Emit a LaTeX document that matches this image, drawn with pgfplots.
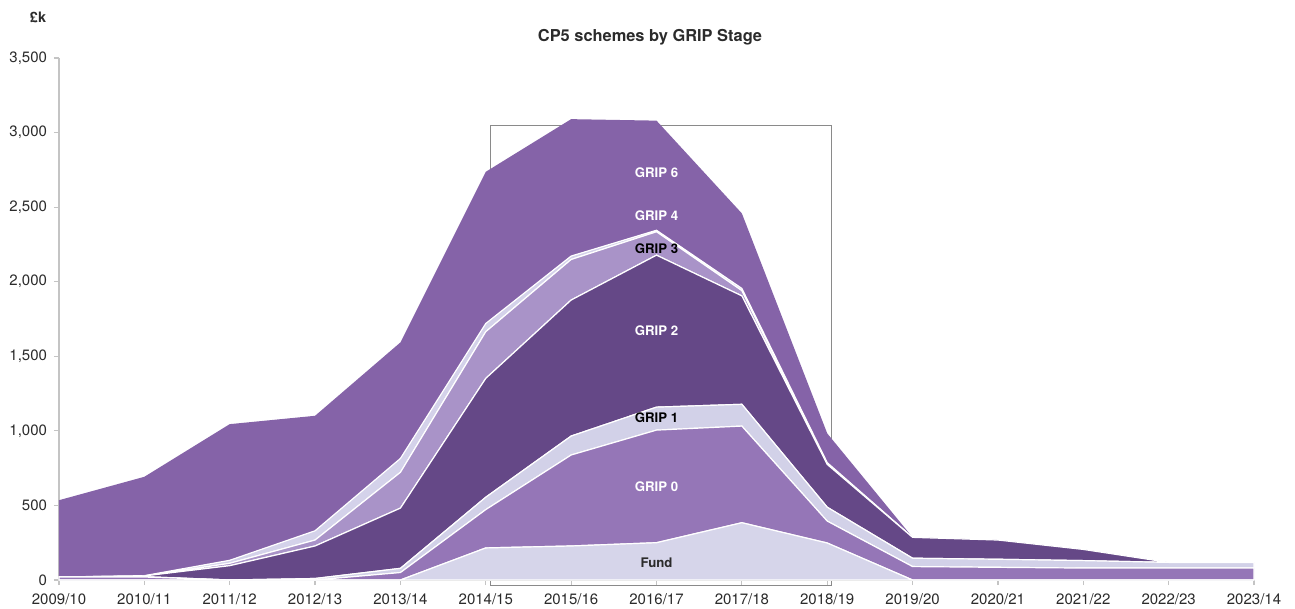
\documentclass[border=0pt]{standalone}
\usepackage{pgfplots}
\pgfplotsset{compat=1.18}
\usepackage{pgfplotstable}
\usepackage{fontspec}
\setmainfont{TeX Gyre Heros}

\definecolor{fundc}{HTML}{D6D5EA}
\definecolor{gzero}{HTML}{9576B7}
\definecolor{gone}{HTML}{D2D1E8}
\definecolor{gtwo}{HTML}{654887}
\definecolor{gthree}{HTML}{A993C8}
\definecolor{gfour}{HTML}{D4D2EA}
\definecolor{gsix}{HTML}{8563A8}
\definecolor{axisgrey}{HTML}{C4C4C4}
\definecolor{boxgrey}{HTML}{8A8A8A}
\definecolor{labelc}{HTML}{2B2B2B}

% Spend per GRIP stage, £k, one row per year (0 = 2009/10)
\pgfplotstableread{
x  fund  g0   g1   g2    g3   g4   g6
0  0     20   0    0     0    0    515
1  0     20   2    5     0    2    663
2  0     0    0    96    16   20   913
3  0     0    10   218   40   62   771
4  0     50   28   404   240  93   778
5  215   257  83   797   313  55   1017
6  228   610  127  912   272  23   918
7  250   755  154  1019  157  10   735
8  384   648  146  727   35   15   503
9  248   147  93   287   5    7    196
10 0     90   56   140   0    0    0
11 0     85   54   129   0    0    0
12 0     80   50   75    0    0    0
13 0     80   38   0     0    0    0
14 0     80   38   0     0    0    0
}\gripdata

\begin{document}
\begin{tikzpicture}
\begin{axis}[
  scale only axis,
  width=597.5bp, height=261bp,
  xmin=0, xmax=14, ymin=0, ymax=3500,
  stack plots=y,
  clip=false,
  axis x line=bottom, axis y line=left,
  axis line style={axisgrey, line width=0.6bp, -},
  tick style={axisgrey, line width=0.6bp},
  tick align=outside,
  major tick length=2.5bp,
  xtick={0,...,14},
  xticklabels={2009/10,2010/11,2011/12,2012/13,2013/14,2014/15,2015/16,2016/17,2017/18,2018/19,2019/20,2020/21,2021/22,2022/23,2023/14},
  ytick={0,500,...,3500},
  /pgf/number format/assume math mode=true,
  /pgf/number format/1000 sep={,},
  tick label style={font=\fontsize{7.5bp}{9bp}\selectfont, text=labelc},
  yticklabel style={xshift=0bp},
  xticklabel style={yshift=-1bp},
]
\addplot[fill=fundc,  draw=white, line width=0.6bp] table[x=x, y=fund] {\gripdata} \closedcycle;
\addplot[fill=gzero,  draw=white, line width=0.6bp] table[x=x, y=g0]   {\gripdata} \closedcycle;
\addplot[fill=gone,   draw=white, line width=0.6bp] table[x=x, y=g1]   {\gripdata} \closedcycle;
\addplot[fill=gtwo,   draw=white, line width=0.6bp] table[x=x, y=g2]   {\gripdata} \closedcycle;
\addplot[fill=gthree, draw=white, line width=0.6bp] table[x=x, y=g3]   {\gripdata} \closedcycle;
\addplot[fill=gfour,  draw=white, line width=0.6bp] table[x=x, y=g4]   {\gripdata} \closedcycle;
\addplot[fill=gsix,   draw=none] table[x=x, y=g6] {\gripdata} \closedcycle;

% axis lines redrawn over the filled layers
\draw[axisgrey, line width=0.6bp] (axis cs:0,0) -- (axis cs:0,3500);
\draw[axisgrey, line width=0.6bp] (axis cs:0,0) -- (axis cs:14,0);

% CP5 window
\draw[boxgrey, line width=0.55bp] (axis cs:5.055,3045) rectangle (axis cs:9.055,-34);
\end{axis}

% layer names, centred on 2016/17 (x unit 597.5bp/14, y unit 261bp/3500)
\begin{scope}[every node/.style={font=\bfseries\fontsize{6.6bp}{8bp}\selectfont}]
\node[text=white]  at (298.75bp,203.5bp) {GRIP 6};
\node[text=white]  at (298.75bp,182.0bp) {GRIP 4};
\node[text=black]  at (298.75bp,165.5bp) {GRIP 3};
\node[text=white]  at (298.75bp,124.5bp) {GRIP 2};
\node[text=black]  at (298.75bp,81.0bp)  {GRIP 1};
\node[text=white]  at (298.75bp,46.5bp)  {GRIP 0};
\node[text=labelc] at (298.75bp,8.5bp)   {Fund};
\end{scope}

\node[font=\bfseries\fontsize{8.2bp}{10bp}\selectfont, text=labelc] at (295.5bp,271.5bp) {CP5 schemes by GRIP Stage};
\node[font=\bfseries\fontsize{7.2bp}{9bp}\selectfont, text=labelc] at (-10.5bp,281.5bp) {£k};

\pgfresetboundingbox
\path[use as bounding box] (-29.5bp,-14.5bp) rectangle (618bp,290bp);
\end{tikzpicture}
\end{document}
